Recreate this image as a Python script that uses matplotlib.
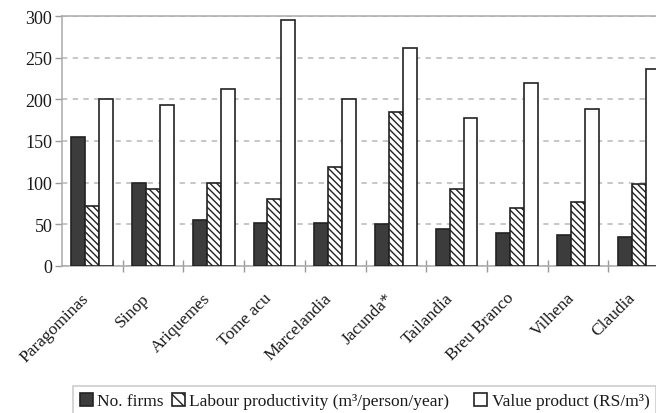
import numpy as np
import matplotlib
matplotlib.use("Agg")
import matplotlib.pyplot as plt
from matplotlib.patches import Patch

plt.rcParams['font.family'] = ['Liberation Serif', 'DejaVu Serif']
plt.rcParams['hatch.linewidth'] = 1.0
plt.rcParams['hatch.color'] = '#444444'

towns = ['Paragominas', 'Sinop', 'Ariquemes', 'Tome acu', 'Marcelandia',
         'Jacunda*', 'Tailandia', 'Breu Branco', 'Vilhena', 'Claudia']
n_firms = [155, 100, 55, 52, 52, 50, 44, 40, 37, 35]
labour_prod = [72, 92, 100, 80, 119, 185, 93, 70, 77, 99]
value_prod = [200, 193, 213, 295, 200, 262, 178, 220, 188, 237]
yticks = [0, 50, 100, 150, 200, 250, 300]

fs = 12.5
txt = '#1a1a1a'

fig = plt.figure(figsize=(6.56, 4.14), dpi=100)
ax = fig.add_axes([62 / 656, 1 - 267 / 414, 607 / 656, 250 / 414])

x = np.arange(len(towns))
w = 0.23
edge = '#222222'
ax.bar(x - w, n_firms, w, color='#3c3c3c', edgecolor=edge, linewidth=1.2, zorder=3)
ax.bar(x, labour_prod, w, color='white', edgecolor=edge, linewidth=1.2,
       hatch='\\\\\\\\\\', zorder=3)
ax.bar(x + w, value_prod, w, color='white', edgecolor=edge, linewidth=1.2, zorder=3)

ax.set_xlim(-0.5, len(towns) - 0.5)
ax.set_ylim(0, 300)
ax.set_yticks(yticks)
ax.set_yticklabels([str(v) for v in yticks], fontsize=13, color=txt)

# category labels at group centres, tick marks at group boundaries
ax.set_xticks(x)
ax.set_xticklabels(towns, rotation=45, ha='right', fontsize=fs, color=txt)
ax.tick_params(axis='x', which='major', length=0, pad=17)
ax.set_xticks(x[:-1] + 0.5, minor=True)
ax.tick_params(axis='x', which='minor', direction='inout', length=9,
               width=1, color='#999999')
ax.tick_params(axis='y', direction='out', length=5, width=1, color='#999999', pad=2)

ax.yaxis.grid(True, color='#b8b8b8', linestyle=(0, (3.5, 3.5)), linewidth=1.1, zorder=0)
ax.set_axisbelow(True)
for side in ['left', 'bottom', 'top']:
    ax.spines[side].set_color('#aaaaaa')
    ax.spines[side].set_linewidth(1.1)
ax.spines['right'].set_visible(False)

handles = [
    Patch(facecolor='#3c3c3c', edgecolor=edge, linewidth=1.2, label='No. firms'),
    Patch(facecolor='white', edgecolor=edge, linewidth=1.2, hatch='\\\\\\',
          label='Labour productivity (m³/person/year)\u2003'),
    Patch(facecolor='white', edgecolor=edge, linewidth=1.2,
          label='Value product (RS/m³)'),
]
leg = fig.legend(handles=handles, loc='upper left', bbox_to_anchor=(73 / 656, 1 - 387 / 414),
                 ncol=3, fontsize=fs, frameon=True, fancybox=False,
                 handlelength=0.75, handleheight=0.75, handletextpad=0.25,
                 columnspacing=0.45, borderpad=0.4, borderaxespad=0)
for t in leg.get_texts():
    t.set_color(txt)
leg.get_frame().set_edgecolor('#bbbbbb')
leg.get_frame().set_linewidth(1.1)

fig.savefig('out.png', dpi=100)
